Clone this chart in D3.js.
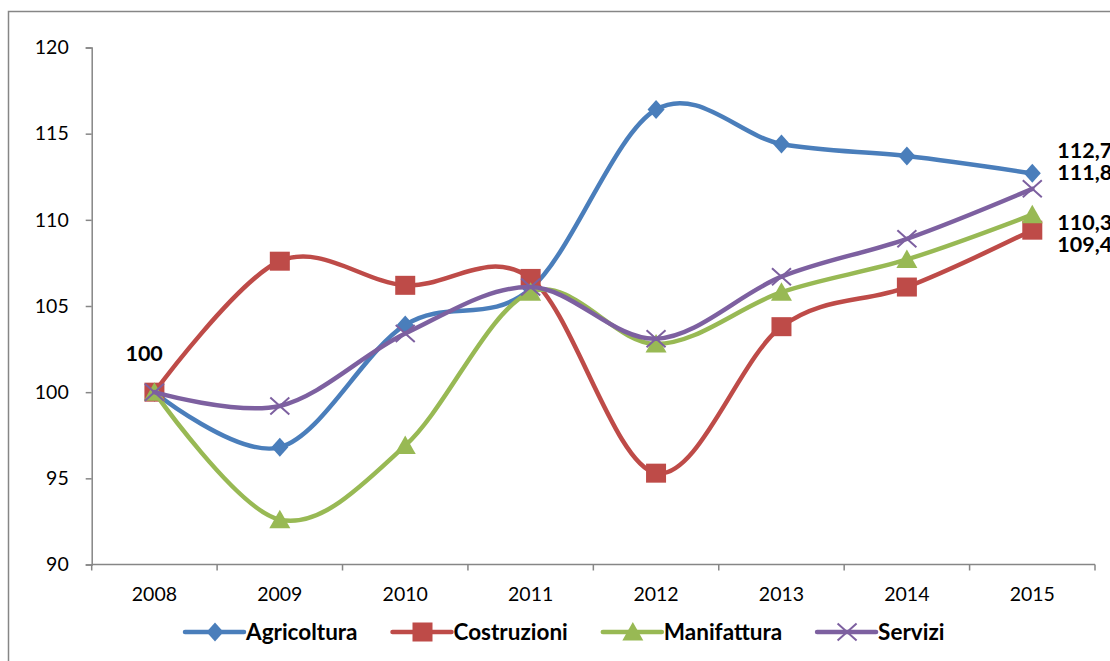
<!DOCTYPE html>
<html>
<head>
<meta charset="utf-8">
<script src="https://cdn.jsdelivr.net/npm/d3@7"></script>
<style>
  html, body { margin: 0; padding: 0; background: #fff; }
  svg { display: block; }
  text { font-family: Lato, "Open Sans", sans-serif; fill: #000; }
</style>
</head>
<body>
<svg id="chart" width="1110" height="661"></svg>
<script>
// Indici 2008 = 100 per settore
const years = ["2008", "2009", "2010", "2011", "2012", "2013", "2014", "2015"];
const agricoltura = [100, 96.8, 103.9, 106.0, 116.4, 114.4, 113.7, 112.7];
const costruzioni = [100, 107.6, 106.2, 106.6, 95.3, 103.8, 106.1, 109.4];
const manifattura = [100, 92.6, 96.9, 105.8, 102.8, 105.8, 107.7, 110.3];
const servizi = [100, 99.2, 103.4, 106.1, 103.1, 106.7, 108.9, 111.8];
const seriesNames = ["Agricoltura", "Costruzioni", "Manifattura", "Servizi"];
const yTicks = [90, 95, 100, 105, 110, 115, 120];

const series = [
  { name: seriesNames[0], values: agricoltura, color: "#4A7EBB", marker: "diamond", labelDy: -23 },
  { name: seriesNames[1], values: costruzioni, color: "#BE4B48", marker: "square", labelDy: 14 },
  { name: seriesNames[2], values: manifattura, color: "#98B954", marker: "triangle", labelDy: 8 },
  { name: seriesNames[3], values: servizi, color: "#7D60A0", marker: "cross", labelDy: -16 }
];

const svg = d3.select("#chart");
const axisColor = "#868686";

// outer frame of the chart area
svg.append("rect")
  .attr("x", 8.5).attr("y", 11.5)
  .attr("width", 1200).attr("height", 700)
  .attr("fill", "none").attr("stroke", axisColor).attr("stroke-width", 1.5);

const x = d3.scaleBand().domain(years).range([91.7, 1095]).padding(0);
const y = d3.scaleLinear().domain([90, 120]).range([564.5, 47.5]);
const cx = d => x(d) + x.bandwidth() / 2;

// y axis
const yAxis = svg.append("g")
  .attr("transform", "translate(91.7,0)")
  .call(d3.axisLeft(y).tickValues(yTicks).tickSize(6).tickPadding(17).tickFormat(d3.format("d")));
yAxis.select(".domain").attr("stroke", axisColor).attr("stroke-width", 1.5);
yAxis.selectAll(".tick line").attr("stroke", axisColor).attr("stroke-width", 1.5);
yAxis.selectAll(".tick text").attr("font-size", 19.5).attr("fill", "#000").attr("font-family", "Lato");

// x axis: ticks on category boundaries
const xAxisG = svg.append("g").attr("transform", "translate(0,564.5)");
xAxisG.append("line")
  .attr("x1", x.range()[0]).attr("x2", x.range()[1])
  .attr("stroke", axisColor).attr("stroke-width", 1.5);
const bounds = years.map(d => x(d)).concat([x.range()[1]]);
xAxisG.selectAll("line.tk").data(bounds).join("line")
  .attr("class", "tk")
  .attr("x1", d => d).attr("x2", d => d)
  .attr("y1", 0).attr("y2", 6)
  .attr("stroke", axisColor).attr("stroke-width", 1.5);
xAxisG.selectAll("text").data(years).join("text")
  .attr("x", d => cx(d)).attr("y", 36)
  .attr("text-anchor", "middle").attr("font-size", 19.5)
  .text(d => d);

// markers
function drawMarker(g, type, color) {
  if (type === "diamond") {
    g.append("path").attr("d", "M0,-9.5L8.5,0L0,9.5L-8.5,0Z").attr("fill", color);
  } else if (type === "square") {
    g.append("rect").attr("x", -10).attr("y", -9.5).attr("width", 20).attr("height", 19).attr("fill", color);
  } else if (type === "triangle") {
    g.append("path").attr("d", "M0,-10L10.5,8.5L-10.5,8.5Z").attr("fill", color);
  } else {
    g.append("path").attr("d", "M-9.5,-8.5L9.5,8.5M-9.5,8.5L9.5,-8.5")
      .attr("stroke", color).attr("stroke-width", 2).attr("fill", "none");
  }
}

const line = d3.line()
  .x((d, i) => cx(years[i]))
  .y(d => y(d))
  .curve(d3.curveCardinal.tension(0));

series.forEach(s => {
  const g = svg.append("g");
  g.append("path")
    .attr("d", line(s.values))
    .attr("fill", "none")
    .attr("stroke", s.color)
    .attr("stroke-width", 4.5)
    .attr("stroke-linecap", "round")
    .attr("stroke-linejoin", "round");
  s.values.forEach((v, i) => {
    const m = g.append("g").attr("transform", `translate(${cx(years[i])},${y(v)})`);
    drawMarker(m, s.marker, s.color);
  });
});

// value labels
const fmt = v => d3.format(".1f")(v).replace(".", ",");
svg.append("text")
  .attr("x", cx(years[0]) - 29).attr("y", y(100) - 31)
  .attr("font-size", 21.5).attr("font-weight", "bold")
  .text(d3.format("d")(agricoltura[0]));
series.forEach(s => {
  const last = s.values[s.values.length - 1];
  svg.append("text")
    .attr("x", cx(years[years.length - 1]) + 25)
    .attr("y", y(last) + s.labelDy + 7.5)
    .attr("font-size", 21.5).attr("font-weight", "bold")
    .text(fmt(last));
});

// legend
const legend = svg.append("g").attr("transform", "translate(185,632)");
let lx = 0;
series.forEach(s => {
  const item = legend.append("g").attr("transform", `translate(${lx},0)`);
  item.append("line").attr("x1", 0).attr("x2", 59)
    .attr("stroke", s.color).attr("stroke-width", 4.5).attr("stroke-linecap", "round");
  const m = item.append("g").attr("transform", "translate(30,0)");
  drawMarker(m, s.marker, s.color);
  const t = item.append("text").attr("x", 61).attr("y", 8)
    .attr("font-size", 22.5).attr("font-weight", "bold").text(s.name);
  lx += 61 + t.node().getComputedTextLength() + 35;
});
</script>
</body>
</html>
